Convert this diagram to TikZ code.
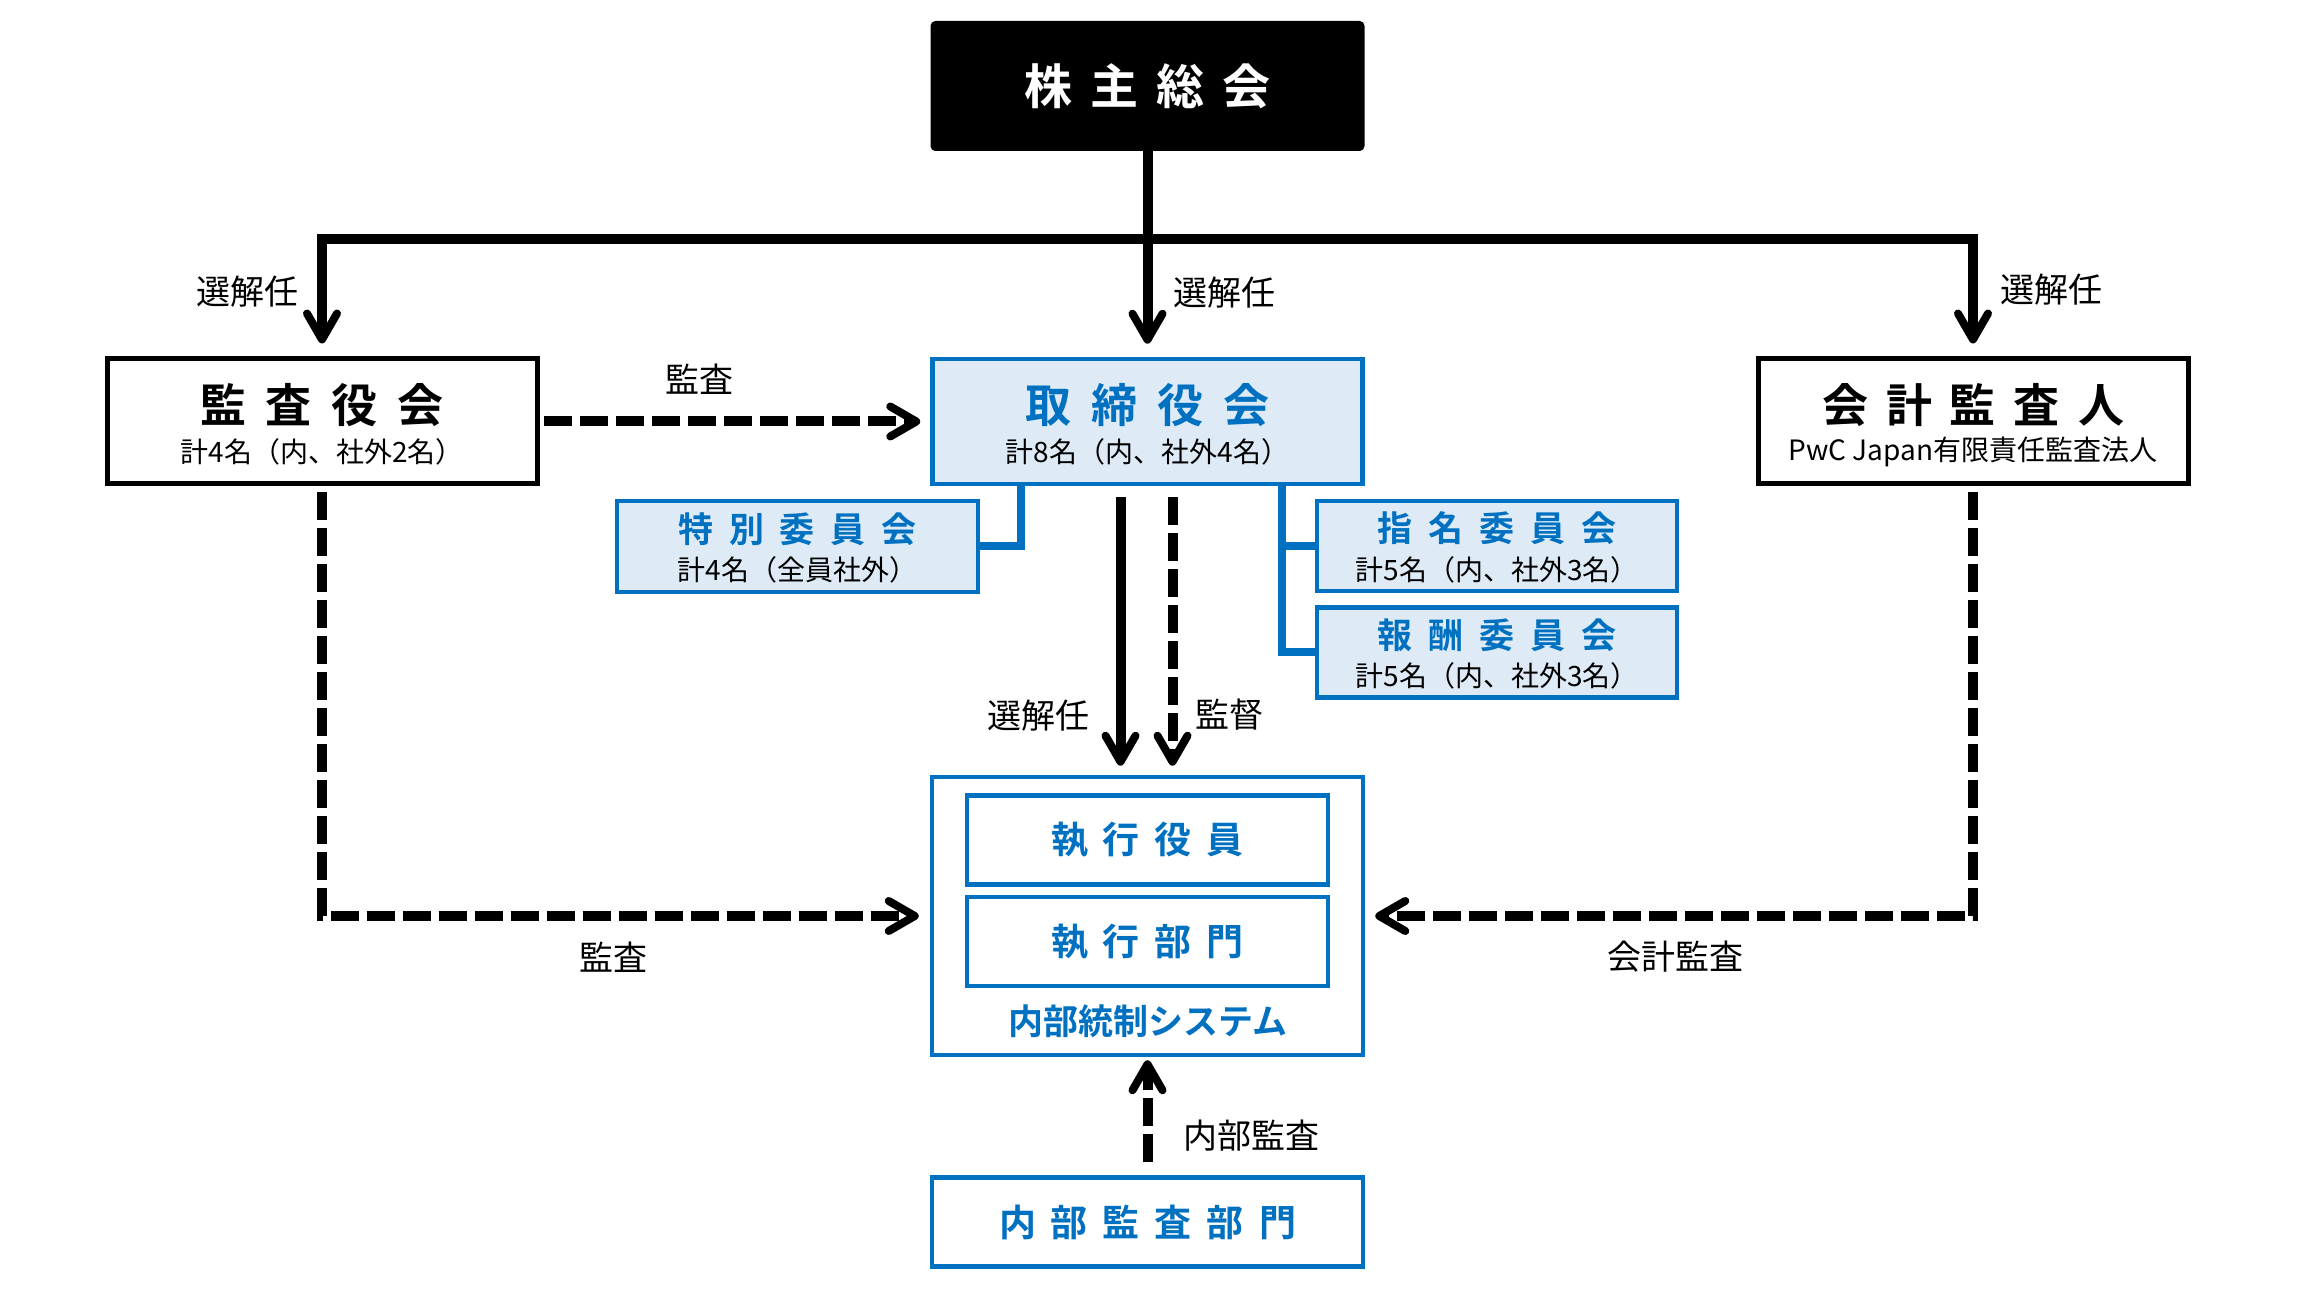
\documentclass[tikz,border=0pt]{standalone}
\usepackage{fontspec}
\setmainfont{Noto Sans CJK JP}[BoldFont={* Bold}]
\usetikzlibrary{arrows.meta}
\definecolor{cblue}{RGB}{0,112,192}
\definecolor{cfill}{RGB}{222,235,247}
\newcommand\gp[1]{\hspace{#1}}
\begin{document}
\begin{tikzpicture}[x=0.5pt,y=-0.5pt,
  bk/.style={draw=black, line width=2.5pt, fill=white, inner sep=0pt},
  gsmbox/.style={draw=black, fill=black, line width=1pt, rounded corners=2pt, inner sep=0pt},
  bl/.style={draw=cblue, line width=2.25pt, fill=cfill, inner sep=0pt},
  blw/.style={draw=cblue, line width=2.25pt, fill=white, inner sep=0pt},
  conn/.style={line width=5pt},
  arr/.style={conn, -{Straight Barb[length=13pt,width=15pt,line width=4pt,round]}},
  dsh/.style={dash pattern=on 14pt off 4pt},
  bconn/.style={draw=cblue, line width=4pt, shorten <=-1.5pt, shorten >=-1pt},
  big/.style={inner sep=0pt, font=\fontsize{23pt}{26pt}\selectfont\bfseries},
  mid/.style={inner sep=0pt, font=\fontsize{17.5pt}{20pt}\selectfont\bfseries, text=cblue},
  ex/.style={inner sep=0pt, font=\fontsize{18.5pt}{21pt}\selectfont\bfseries, text=cblue},
  sub/.style={inner sep=0pt, font=\fontsize{14pt}{16pt}\selectfont},
  lbl/.style={inner sep=0pt, font=\fontsize{17pt}{19pt}\selectfont}]
\useasboundingbox (0,0) rectangle (2299,1293);

% boxes
\node[gsmbox, minimum width=216pt, minimum height=64pt] (gsm) at (1147.5,86) {};
\node[big, text=white, font=\fontsize{24pt}{27pt}\selectfont\bfseries] (gsm-t) at (gsm.center) {株\gp{9pt}主\gp{9pt}総\gp{9pt}会};

\node[bk, minimum width=215pt, minimum height=62.5pt] (kansa) at (322,421.5) {};
\node[big] (kansa-t) at ([yshift=8.25pt]kansa.center) {監\gp{10pt}査\gp{10pt}役\gp{10pt}会};
\node[sub] (kansa-s) at ([yshift=-15.25pt]kansa.center) {計4名（内、社外2名）};

\node[bl, minimum width=215pt, minimum height=62.5pt] (board) at (1147.5,421.5) {};
\node[big, text=cblue] (board-t) at ([yshift=8.25pt]board.center) {取\gp{10pt}締\gp{10pt}役\gp{10pt}会};
\node[sub] (board-s) at ([yshift=-15.25pt]board.center) {計8名（内、社外4名）};

\node[bk, minimum width=215pt, minimum height=62.5pt] (aud) at (1973,421.5) {};
\node[big] (aud-t) at ([yshift=8.25pt]aud.center) {会\gp{9pt}計\gp{9pt}監\gp{9pt}査\gp{9pt}人};
\node[sub] (aud-s) at ([yshift=-15.25pt]aud.center) {PwC Japan有限責任監査法人};

\node[bl, minimum width=180.5pt, minimum height=45.5pt] (tok) at (797.5,546.5) {};
\node[mid] (tok-t) at ([yshift=8.75pt]tok.center) {特\gp{8pt}別\gp{8pt}委\gp{8pt}員\gp{8pt}会};
\node[sub] (tok-s) at ([yshift=-11.75pt]tok.center) {計4名（全員社外）};

\node[bl, minimum width=180pt, minimum height=45pt] (shi) at (1497,546) {};
\node[mid] (shi-t) at ([yshift=8.75pt]shi.center) {指\gp{8pt}名\gp{8pt}委\gp{8pt}員\gp{8pt}会};
\node[sub] (shi-s) at ([yshift=-11.75pt]shi.center) {計5名（内、社外3名）};

\node[bl, minimum width=180pt, minimum height=45pt] (hou) at (1497,652.5) {};
\node[mid] (hou-t) at ([yshift=8.75pt]hou.center) {報\gp{8pt}酬\gp{8pt}委\gp{8pt}員\gp{8pt}会};
\node[sub] (hou-s) at ([yshift=-11.75pt]hou.center) {計5名（内、社外3名）};

\node[blw, minimum width=215.5pt, minimum height=139pt] (outer) at (1147.5,916) {};
\node[blw, minimum width=180.5pt, minimum height=44.5pt] (yak) at (1147.5,840) {};
\node[ex] (yak-t) at (yak.center) {執\gp{7.5pt}行\gp{7.5pt}役\gp{7.5pt}員};
\node[blw, minimum width=180.5pt, minimum height=44.5pt] (bum) at (1147.5,941.5) {};
\node[ex] (bum-t) at (bum.center) {執\gp{7.5pt}行\gp{7.5pt}部\gp{7.5pt}門};
\node[mid] (sys-t) at (1147.5,1021) {内部統制システム};

\node[blw, minimum width=215.5pt, minimum height=44.5pt] (nai) at (1147.5,1222) {};
\node[ex] (nai-t) at (nai.center) {内\gp{7.5pt}部\gp{7.5pt}監\gp{7.5pt}査\gp{7.5pt}部\gp{7.5pt}門};

% connectors
\coordinate (bar) at (1147.5,239);
\draw[arr, shorten >=6.5pt] (gsm.south) -- (board.north)
  node[lbl, pos=0.69, anchor=west, xshift=10.5pt] (l1) {選解任};
\draw[arr, shorten >=6.5pt] (bar) -| (kansa.north)
  node[lbl, pos=0.725, anchor=east, xshift=-9.5pt] (l2) {選解任};
\draw[arr, shorten >=6.5pt] (bar) -| (aud.north)
  node[lbl, pos=0.717, anchor=west, xshift=11pt] (l3) {選解任};

\draw[arr, dsh, shorten <=2pt, shorten >=5pt] (kansa.east) -- (board.west)
  node[lbl, pos=0.41, yshift=21pt] (l4) {監査};

\draw[bconn] ([xshift=45.5pt]board.south west) |- (tok.east);
\draw[bconn] ([xshift=-41.5pt]board.south east) |- (shi.west);
\draw[bconn] ([xshift=-41.5pt]board.south east) |- (hou.west);

\draw[arr, shorten <=5.25pt, shorten >=4.5pt] ([xshift=-13.5pt]board.south) -- ([xshift=-13.5pt]outer.north)
  node[lbl, pos=0.795, anchor=east, xshift=-13pt] (l5) {選解任};
\draw[arr, dsh, shorten <=5.5pt, shorten >=4.5pt] ([xshift=12.5pt]board.south) -- ([xshift=12.5pt]outer.north)
  node[lbl, pos=0.79, anchor=west, xshift=9pt] (l6) {監督};

\draw[arr, dsh, shorten <=3pt, shorten >=5.5pt] (kansa.south) |- (outer.west)
  node[lbl, pos=0.74, yshift=-20.5pt] (l7) {監査};
\draw[arr, dsh, shorten <=3pt, shorten >=5pt] (aud.south) |- (outer.east)
  node[lbl, pos=0.745, yshift=-20.5pt] (l8) {会計監査};

\draw[arr, dsh, shorten <=6.5pt, shorten >=1.5pt] (nai.north) -- (outer.south)
  node[lbl, pos=0.34, anchor=west, xshift=15.5pt] (l9) {内部監査};
\end{tikzpicture}
\end{document}
